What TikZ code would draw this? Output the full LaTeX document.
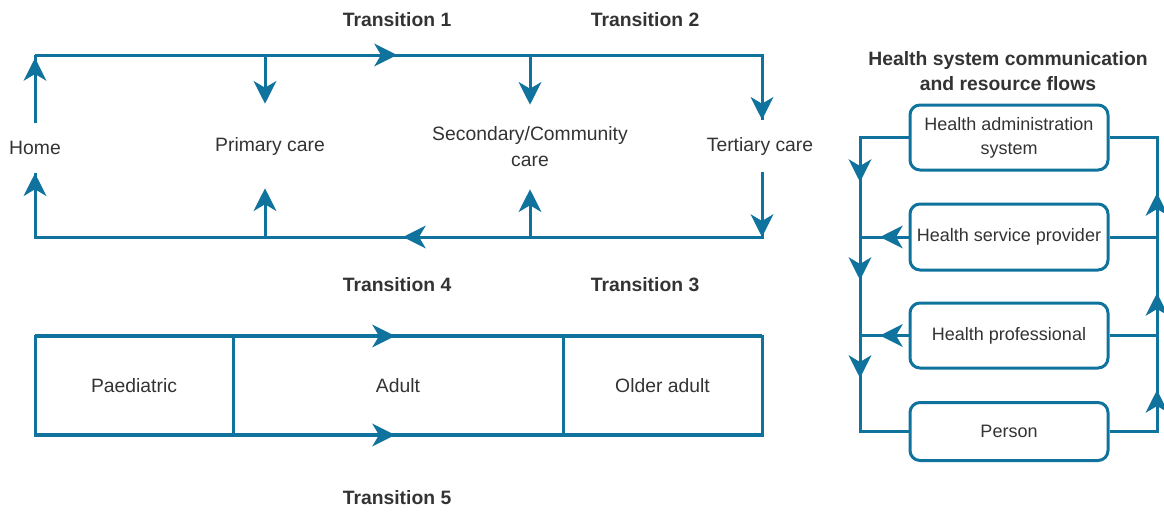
\documentclass[tikz,border=0pt]{standalone}
\usepackage{fontspec}
\setmainfont{Liberation Sans}
\usetikzlibrary{arrows.meta,positioning}
\definecolor{FlowTeal}{HTML}{10739E}
\definecolor{FlowText}{HTML}{333333}

\begin{document}
\begin{tikzpicture}[
    x=0.75pt,y=-0.75pt,
    line/.style={draw=FlowTeal,line width=2.25pt},
    flow/.style={line,-{Stealth[length=17pt,width=17pt,inset=5pt]}},
    place/.style={text=FlowText,align=center,inner sep=0pt,font=\fontsize{14.5}{19.5}\selectfont},
    trans/.style={text=FlowText,font=\fontsize{14.5}{19}\selectfont\bfseries,align=center},
    cell/.style={place,draw=FlowTeal,line width=2.25pt,outer sep=0pt,minimum height=74.25pt},
    actor/.style={place,draw=FlowTeal,line width=2.25pt,rounded corners=7.5pt,minimum width=148.5pt,font=\fontsize{13.5}{18}\selectfont}
  ]
    \path[use as bounding box] (0,0) rectangle (1164,511);

    \node[place,minimum height=37.5pt] (home) at (35,148) {Home};
    \node[place,minimum height=63pt] (primary) at (270,146) {Primary care};
    \node[place,minimum height=63pt] (secondary) at (530,147) {Secondary/Community\\care};
    \node[place,minimum height=39pt] (tertiary) at (760,146) {Tertiary care};

    \node[trans] (trans1) at (397,20) {Transition 1};
    \node[trans] (trans2) at (645,20) {Transition 2};
    \node[trans] (trans4) at (397,285) {Transition 4};
    \node[trans] (trans3) at (645,285) {Transition 3};
    \node[trans] (trans5) at (397,498) {Transition 5};

    \coordinate (tl) at (35,55);
    \coordinate (tr) at (762,55);
    \coordinate (bl) at (35,237);
    \coordinate (br) at (762,237);
    \coordinate (p1) at (265,55);
    \coordinate (s1) at (530,55);
    \coordinate (p2) at (265,237);
    \coordinate (s2) at (530,237);
    \coordinate (m1) at (397,55);
    \coordinate (m2) at (403,237);
    \coordinate (tlt) at (35,58);

    \draw[line] (tl) -- (tr) -- (tr |- tertiary.north);
    \draw[line] (tr |- tertiary.south) -- (br) -- (bl) -- (home.south);
    \draw[line] (home.north) -- (tl);
    \draw[flow] (home.north) -- (tlt);
    \draw[flow] (bl) -- (home.south);
    \draw[flow] (tl) -- (m1);
    \draw[flow] (br) -- (m2);
    \draw[flow] (p1) -- (p1 |- primary.north);
    \draw[flow] (s1) -- (s1 |- secondary.north);
    \draw[flow] (tr) -- (tr |- tertiary.north);
    \draw[flow] (tr |- tertiary.south) -- (br);
    \draw[flow] (p2) -- (p2 |- primary.south);
    \draw[flow] (s2) -- (s2 |- secondary.south);

    \node[cell,minimum width=148.5pt] (paed) at (134,385.5) {Paediatric};
    \node[cell,minimum width=247.5pt,right=0pt of paed] (adult) {Adult};
    \node[cell,minimum width=149.25pt,right=0pt of adult] (older) {Older adult};

    \coordinate (m4) at (395,336);
    \coordinate (m5) at (395,435);
    \draw[line,line width=3pt] (paed.north west) -- (older.north east);
    \draw[line,line width=3pt] (paed.south west) -- (older.south east);
    \draw[flow] (paed.north west) -- (m4);
    \draw[flow] (paed.south west) -- (m5);

    \node[trans] (flows) at (1008,71) {Health system communication\\and resource flows};
    \node[actor,minimum height=48.75pt] (admin) at (1009,137.5) {Health administration\\system};
    \node[actor,minimum height=49.5pt] (provider) at (1009,237) {Health service provider};
    \node[actor,minimum height=48.75pt] (professional) at (1009,335.5) {Health professional};
    \node[actor,minimum height=43.5pt] (person) at (1009,431.5) {Person};

    \coordinate (busL) at (860,0);
    \coordinate (busR) at (1157,0);
    \coordinate (tipL) at (880,0);
    \coordinate (d1) at (860,182);
    \coordinate (d2) at (860,280);
    \coordinate (d3) at (860,378);
    \coordinate (u1) at (1157,193);
    \coordinate (u2) at (1157,293);
    \coordinate (u3) at (1157,390);

    \draw[line] (admin.west) -- (admin.west -| busL) -- (person.west -| busL) -- (person.west);
    \draw[flow] (admin.west -| busL) -- (d1);
    \draw[flow] (d1) -- (d2);
    \draw[flow] (d2) -- (d3);
    \draw[line] (person.east) -- (person.east -| busR) -- (admin.east -| busR) -- (admin.east);
    \draw[flow] (person.east -| busR) -- (u3);
    \draw[flow] (u3) -- (u2);
    \draw[flow] (u2) -- (u1);
    \draw[line] (provider.west) -- (provider.west -| busL);
    \draw[flow] (provider.west) -- (provider.west -| tipL);
    \draw[line] (provider.east) -- (provider.east -| busR);
    \draw[line] (professional.west) -- (professional.west -| busL);
    \draw[flow] (professional.west) -- (professional.west -| tipL);
    \draw[line] (professional.east) -- (professional.east -| busR);
  \end{tikzpicture}
\end{document}
